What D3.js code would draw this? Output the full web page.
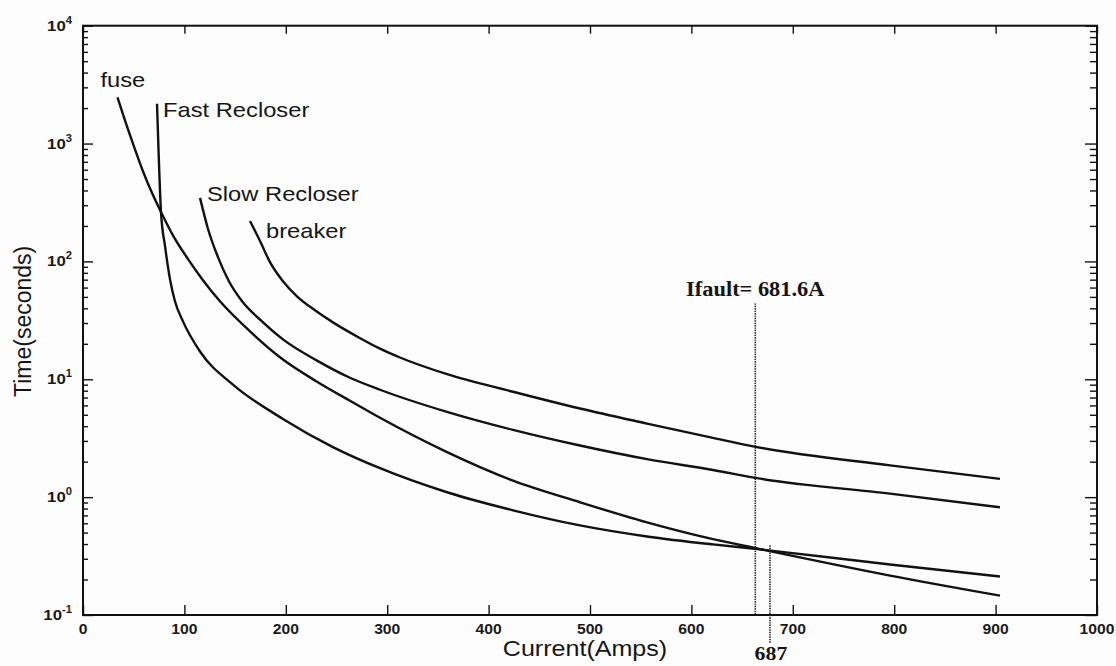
<!DOCTYPE html>
<html>
<head>
<meta charset="utf-8">
<script src="https://cdn.jsdelivr.net/npm/d3@7"></script>
<style>
    body { margin: 0; background: #fdfdfd; }
    svg { display: block; }
</style>
</head>
<body>
<svg id="chart" width="1116" height="666"></svg>
<script>
// [current (A), time (s)]
const fuse = [[34.0, 2467], [41.4, 1571], [50.3, 943], [59.7, 566], [68.0, 382], [76.9, 263], [89.7, 161],
    [103.6, 104.6], [118.3, 69.3], [135.1, 45.9], [164.7, 25.5], [197.2, 14.7], [230.8, 9.54], [263.3, 6.57],
    [292.9, 4.71], [359.0, 2.41], [424.1, 1.38], [490.1, 0.905], [556.2, 0.611], [621.3, 0.44], [664.7, 0.367],
    [795.9, 0.216], [904.3, 0.146]];
const fastRecloser = [[73.0, 2180], [74.5, 871], [76.9, 263], [80.9, 135], [85.8, 70.7], [90.7, 45.9], [98.6, 31.0],
    [115.4, 17.2], [147.9, 9.0], [197.2, 4.61], [246.5, 2.66], [292.9, 1.76], [359.0, 1.10], [424.1, 0.773],
    [490.1, 0.576], [556.2, 0.464], [621.3, 0.397], [664.7, 0.363], [795.9, 0.268], [904.3, 0.212]];
const slowRecloser = [[115.4, 346], [123.3, 188.5], [133.1, 108.8], [143.9, 67.9], [156.9, 45.9], [176.5, 31.0],
    [197.2, 21.8], [230.8, 14.4], [263.3, 10.3], [292.9, 8.15], [358.9, 5.29], [424.1, 3.72], [490.1, 2.74],
    [556.2, 2.10], [621.3, 1.70], [664.7, 1.45], [795.9, 1.07], [904.3, 0.82]];
const breaker = [[164.7, 220.6], [174.6, 148.9], [184.4, 98.6], [197.2, 67.9], [211.0, 50.6], [228.8, 38.5],
    [246.5, 30.4], [270.2, 23.1], [292.9, 18.2], [312.6, 15.3], [359.0, 11.05], [424.1, 7.84], [490.1, 5.65],
    [556.2, 4.21], [621.3, 3.18], [664.7, 2.66], [795.9, 1.86], [904.3, 1.43]];

const curveNames = ['fuse', 'Fast Recloser', 'Slow Recloser', 'breaker'];
const xTicks = [0, 100, 200, 300, 400, 500, 600, 700, 800, 900, 1000];
const yExponents = [-1, 0, 1, 2, 3, 4];

// dotted fault markers, drawn where they sit in the picture
const faultAmps = [663, 677.5];
const faultLabels = ['Ifault= 681.6A', '687'];
const faultTopTimes = [44, 0.39];

class CoordinationChart {

    constructor() {
        this.svg = d3.select('#chart');
        this.left = 83;
        this.right = 1097;
        this.top = 25.7;
        this.bottom = 615;

        this.xScale = d3.scaleLinear()
            .domain([0, 1000])
            .range([this.left, this.right]);

        this.yScale = d3.scaleLog()
            .domain([0.1, 10000])
            .range([this.bottom, this.top]);

        this.sans = "'Liberation Sans', Arial, Helvetica, sans-serif";
        this.serif = "'Liberation Serif', 'Times New Roman', serif";

        this.drawAxes();
        this.drawCurves();
        this.drawFaults();
        this.drawTitles();
    }

    drawAxes() {
        let svg = this.svg;
        let majors = yExponents.map(e => Math.pow(10, e));
        let minors = this.yScale.ticks().filter(d => !majors.some(m => Math.abs(m - d) < 1e-9));

        let axes = [
            [d3.axisLeft(this.yScale).tickValues(majors).tickSize(-10), this.left],
            [d3.axisLeft(this.yScale).tickValues(minors).tickSize(-5), this.left],
            [d3.axisRight(this.yScale).tickValues(majors).tickSize(-12), this.right],
            [d3.axisRight(this.yScale).tickValues(minors).tickSize(-7), this.right]
        ];
        axes.forEach(([axis, x]) => {
            svg.append('g')
                .attr('transform', `translate(${x},0)`)
                .call(axis.tickFormat('').tickSizeOuter(0))
                .call(g => g.select('.domain').remove())
                .call(g => g.selectAll('line').attr('stroke', '#111').attr('stroke-width', 1.4));
        });

        svg.append('g')
            .attr('transform', `translate(0,${this.top})`)
            .call(d3.axisTop(this.xScale).tickValues(xTicks).tickSize(-8).tickFormat('').tickSizeOuter(0))
            .call(g => g.select('.domain').remove())
            .call(g => g.selectAll('line').attr('stroke', '#111').attr('stroke-width', 1.4));

        svg.append('g')
            .attr('transform', `translate(0,${this.bottom})`)
            .call(d3.axisBottom(this.xScale).tickValues(xTicks).tickSize(-10).tickFormat('').tickSizeOuter(0))
            .call(g => g.select('.domain').remove())
            .call(g => g.selectAll('line').attr('stroke', '#111').attr('stroke-width', 1.4));

        svg.append('rect')
            .attr('x', this.left)
            .attr('y', this.top)
            .attr('width', this.right - this.left)
            .attr('height', this.bottom - this.top)
            .attr('fill', 'none')
            .attr('stroke', '#111')
            .attr('stroke-width', 2);

        // x tick labels
        svg.append('g')
            .selectAll('text')
            .data(xTicks)
            .join('text')
            .text(d => d)
            .attr('transform', d => `translate(${this.xScale(d)},${this.bottom + 19}) scale(1.12,1)`)
            .attr('text-anchor', 'middle')
            .attr('font-family', this.sans)
            .attr('font-weight', 'bold')
            .attr('font-size', 14)
            .attr('fill', '#1a1a1a');

        // y tick labels, 10 with superscript exponent
        let yLabels = svg.append('g')
            .selectAll('text')
            .data(yExponents)
            .join('text')
            .attr('transform', d => `translate(${this.left - 11},${this.yScale(Math.pow(10, d)) + 5}) scale(1.12,1)`)
            .attr('text-anchor', 'end')
            .attr('font-family', this.sans)
            .attr('font-weight', 'bold')
            .attr('font-size', 15)
            .attr('fill', '#1a1a1a');
        yLabels.append('tspan').text('10');
        yLabels.append('tspan')
            .text(d => d)
            .attr('dy', -7)
            .attr('font-size', 10);
    }

    drawCurves() {
        let line = d3.line()
            .x(d => this.xScale(d[0]))
            .y(d => this.yScale(d[1]))
            .curve(d3.curveMonotoneX);

        let series = [fuse, fastRecloser, slowRecloser, breaker];

        this.svg.append('g')
            .selectAll('path')
            .data(series)
            .join('path')
            .attr('d', line)
            .attr('fill', 'none')
            .attr('stroke', '#111')
            .attr('stroke-width', 2.4)
            .attr('stroke-linejoin', 'round');

        // name next to the upper end of each curve
        let offsets = [[-17, -10], [6, 13], [7, 3], [16, 17]];
        let tops = [fuse[0], fastRecloser[0], slowRecloser[0], breaker[0]];

        this.svg.append('g')
            .selectAll('text')
            .data(curveNames)
            .join('text')
            .text(d => d)
            .attr('transform', (d, i) => {
                let x = this.xScale(tops[i][0]) + offsets[i][0];
                let y = this.yScale(tops[i][1]) + offsets[i][1];
                return `translate(${x},${y}) scale(1.13,1)`;
            })
            .attr('font-family', this.sans)
            .attr('font-size', 21)
            .attr('fill', '#151515');
    }

    drawFaults() {
        let svg = this.svg;
        let extraBelow = [0, 28];

        svg.append('g')
            .selectAll('line')
            .data(faultAmps)
            .join('line')
            .attr('x1', d => this.xScale(d))
            .attr('x2', d => this.xScale(d))
            .attr('y1', (d, i) => this.yScale(faultTopTimes[i]))
            .attr('y2', (d, i) => this.bottom + extraBelow[i])
            .attr('stroke', '#222')
            .attr('stroke-width', 1.6)
            .attr('stroke-dasharray', '1.4,1');

        // Ifault label above its line, 687 below the axis
        svg.append('text')
            .text(faultLabels[0])
            .attr('transform', `translate(${this.xScale(faultAmps[0])},${this.yScale(faultTopTimes[0]) - 7}) scale(1.12,1)`)
            .attr('text-anchor', 'middle')
            .attr('font-family', this.serif)
            .attr('font-weight', 'bold')
            .attr('font-size', 20)
            .attr('fill', '#151515');

        svg.append('text')
            .text(faultLabels[1])
            .attr('transform', `translate(${this.xScale(faultAmps[1]) + 1},660) scale(1.15,1)`)
            .attr('text-anchor', 'middle')
            .attr('font-family', this.serif)
            .attr('font-weight', 'bold')
            .attr('font-size', 19)
            .attr('fill', '#151515');
    }

    drawTitles() {
        this.svg.append('text')
            .text('Current(Amps)')
            .attr('transform', `translate(${(this.left + this.right) / 2 - 5},656) scale(1.14,1)`)
            .attr('text-anchor', 'middle')
            .attr('font-family', this.sans)
            .attr('font-size', 22)
            .attr('fill', '#151515');

        this.svg.append('text')
            .text('Time(seconds)')
            .attr('transform', `translate(31,${(this.top + this.bottom) / 2 + 1}) rotate(-90)`)
            .attr('text-anchor', 'middle')
            .attr('font-family', this.sans)
            .attr('font-size', 23)
            .attr('fill', '#151515');
    }
}

new CoordinationChart();
</script>
</body>
</html>
